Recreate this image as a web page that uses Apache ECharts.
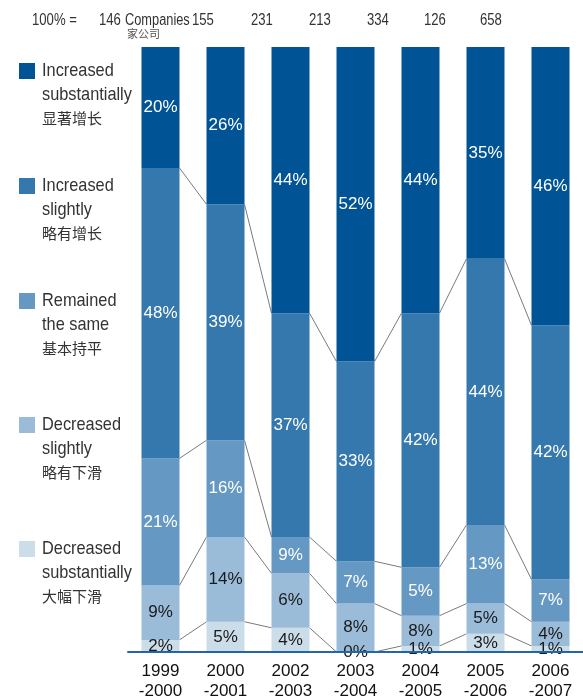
<!DOCTYPE html>
<html><head><meta charset="utf-8">
<script src="https://cdn.jsdelivr.net/npm/echarts@6/dist/echarts.min.js"></script>
<style>html,body{margin:0;padding:0;background:#fff}#c{width:583px;height:697px}</style>
</head><body><div id="c"></div>
<script>
// ---- data ----
const categories = ['1999\n-2000','2000\n-2001','2002\n-2003','2003\n-2004','2004\n-2005','2005\n-2006','2006\n-2007'];
const companyCounts = ['146','155','231','213','334','126','658'];
const headerLead = '100% =';
const companiesEn = 'Companies';
const companiesZh = '家公司';
const seriesNames = ['Increased substantially','Increased slightly','Remained the same','Decreased slightly','Decreased substantially'];
const legendLines = [
  ['Increased','substantially','显著增长'],
  ['Increased','slightly','略有增长'],
  ['Remained','the same','基本持平'],
  ['Decreased','slightly','略有下滑'],
  ['Decreased','substantially','大幅下滑']
];
// segment heights as drawn (percent)
const incSub = [20,26,44,52,44,35,46];
const incSli = [48,39,37,33,42,44,42];
const same   = [21,16,6,7,8,13,7];
const decSli = [9,14,9,8,5,5,4];
const decSub = [2,5,4,0,1,3,1];
// percentages printed on the segments
const incSubLbl = [20,26,44,52,44,35,46];
const incSliLbl = [48,39,37,33,42,44,42];
const sameLbl   = [21,16,9,7,5,13,7];
const decSliLbl = [9,14,6,8,8,5,4];
const decSubLbl = [2,5,4,0,1,3,1];

// ---- styles / layout ----
const COLORS = ['#005496','#3478ad','#6598c2','#9bbcd8','#cbdde9'];
const FONT = '"Liberation Sans Narrow","Liberation Sans",Arial,sans-serif';
const CJK = '"Noto Sans CJK SC",sans-serif';
const BAR_W = 38;
const headerX = [99,192,251,309,367,424,480];
const legendTop = [63,178,293,417,541];

const chart = echarts.init(document.getElementById('c'), null, {renderer:'canvas'});

const barDefs = [
  {name:seriesNames[4], vals:decSub, lbl:decSubLbl, color:COLORS[4], txt:'#1a1a1a'},
  {name:seriesNames[3], vals:decSli, lbl:decSliLbl, color:COLORS[3], txt:'#1a1a1a'},
  {name:seriesNames[2], vals:same,   lbl:sameLbl,   color:COLORS[2], txt:'#ffffff'},
  {name:seriesNames[1], vals:incSli, lbl:incSliLbl, color:COLORS[1], txt:'#ffffff'},
  {name:seriesNames[0], vals:incSub, lbl:incSubLbl, color:COLORS[0], txt:'#ffffff'}
];
const boundaries = [decSub, decSli, same, incSli];
function cumAt(k,i){let s=0;for(let j=0;j<=k;j++)s+=boundaries[j][i];return s;}

const series = barDefs.map(d => ({
  type:'bar', name:d.name, stack:'all', barWidth:BAR_W, data:d.vals,
  itemStyle:{color:d.color},
  label:{show:true, position:'inside', color:d.txt, fontFamily:FONT, fontSize:17,
    formatter:p => d.lbl[p.dataIndex] + '%'},
  emphasis:{disabled:true}, animation:false
}));
series.push({
  type:'custom', name:'connectors', animation:false, z:1,
  data: categories.slice(0,-1).map((c,i)=>[i,0]),
  renderItem(params, api){
    const i = api.value(0);
    const hw = BAR_W/2;
    const children = [];
    for(let k=0;k<boundaries.length;k++){
      const a = api.coord([i, cumAt(k,i)]);
      const b = api.coord([i+1, cumAt(k,i+1)]);
      children.push({type:'line', shape:{x1:a[0]+hw,y1:a[1],x2:b[0]-hw,y2:b[1]},
        style:{stroke:'#7a7a7a', lineWidth:1}});
    }
    return {type:'group', children};
  }
});

const graphics = [];
const HS = 0.82, LS = 0.86;
graphics.push({type:'text', x:32, y:13, scaleX:HS, style:{text:headerLead, font:'16px '+FONT, fill:'#333'}});
companyCounts.forEach((c,i)=>{
  graphics.push({type:'text', x:headerX[i], y:13, scaleX:HS, style:{text:c, font:'16px '+FONT, fill:'#333'}});
});
graphics.push({type:'text', x:125, y:13, scaleX:0.8, style:{text:companiesEn, font:'16px '+FONT, fill:'#333'}});
graphics.push({type:'text', x:127, y:28, style:{text:companiesZh, font:'11px '+CJK, fill:'#555'}});
legendLines.forEach((lines,k)=>{
  const t = legendTop[k];
  graphics.push({type:'rect', x:19, y:t, shape:{width:16,height:16}, style:{fill:COLORS[k]}});
  graphics.push({type:'text', x:42, y:t-2, scaleX:LS, style:{text:lines[0], font:'19px '+FONT, fill:'#333'}});
  graphics.push({type:'text', x:42, y:t+22, scaleX:LS, style:{text:lines[1], font:'19px '+FONT, fill:'#333'}});
  graphics.push({type:'text', x:42, y:t+48, style:{text:lines[2], font:'15px '+CJK, fill:'#333'}});
});

chart.setOption({
  animation:false,
  grid:{left:128, top:47, width:455, height:605, containLabel:false, outerBoundsMode:'none'},
  xAxis:{type:'category', data:categories, z:10,
    axisLine:{lineStyle:{color:'#2266a6', width:2}},
    axisTick:{show:false},
    axisLabel:{color:'#111', fontFamily:FONT, fontSize:17, lineHeight:20, margin:9, interval:0}},
  yAxis:{type:'value', min:0, max:100, show:false},
  series,
  graphic:graphics
});
</script></body></html>
